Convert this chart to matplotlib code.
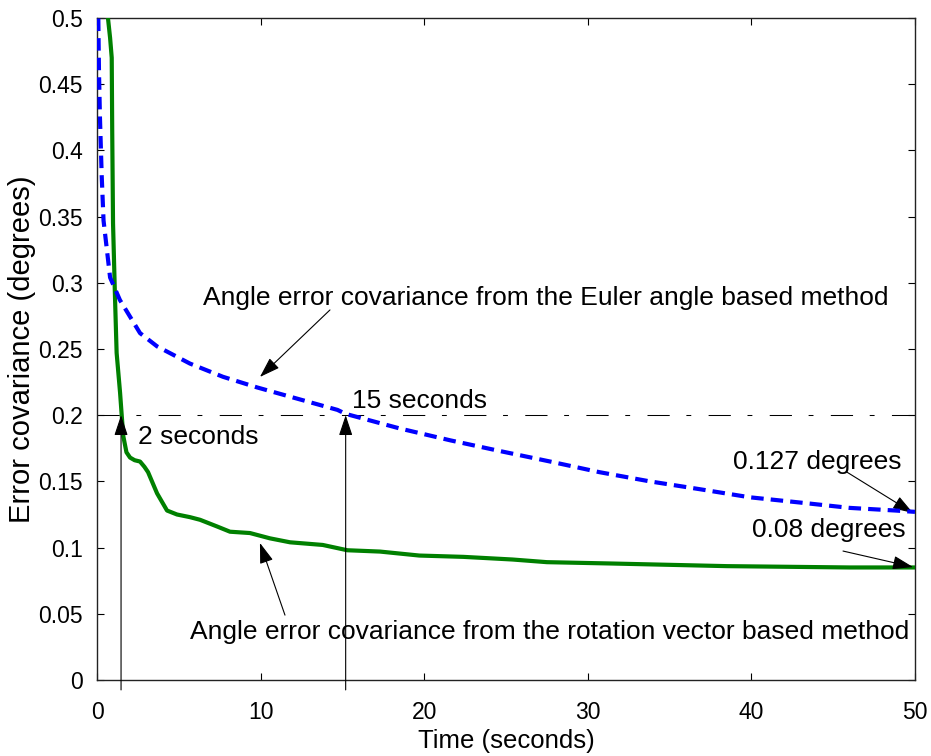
import matplotlib
matplotlib.use("Agg")
import matplotlib.pyplot as plt

# ---- data ----
euler_t = [0.0, 0.08, 0.12, 0.18, 0.29, 0.4, 0.8, 1.4, 2.63, 3.67, 5.68, 7.7, 9.78,
           11.8, 14.7, 15.2, 18.5, 21.6, 24.6, 27.7, 30.7, 33.8, 36.9, 39.9, 43.0,
           46.0, 48.8, 50.0]
euler_cov = [0.52, 0.5, 0.46, 0.425, 0.38, 0.347, 0.304, 0.287, 0.262, 0.252, 0.239,
             0.229, 0.221, 0.214, 0.204, 0.201, 0.19, 0.181, 0.173, 0.165, 0.157,
             0.150, 0.144, 0.138, 0.134, 0.130, 0.128, 0.127]

rot_t = [0.6, 0.67, 0.8, 0.9, 0.93, 0.98, 1.1, 1.2, 1.41, 1.51, 1.61, 1.8, 2.02, 2.3,
         2.63, 2.9, 3.12, 3.67, 4.28, 4.89, 5.68, 6.3, 7.33, 8.13, 9.35, 10.57, 11.8,
         13.8, 15.3, 17.3, 19.7, 22.4, 25.4, 27.5, 31.4, 38.5, 46.0, 50.0]
rot_cov = [0.56, 0.5, 0.485, 0.47, 0.415, 0.345, 0.289, 0.247, 0.217, 0.2, 0.184,
           0.172, 0.168, 0.166, 0.165, 0.161, 0.157, 0.141, 0.128, 0.125, 0.123,
           0.121, 0.116, 0.112, 0.111, 0.107, 0.104, 0.102, 0.098, 0.097, 0.094,
           0.093, 0.091, 0.089, 0.088, 0.086, 0.085, 0.085]

threshold = 0.2
t_rot_cross = 1.47
t_euler_cross = 15.2
final_euler = 0.127
final_rot = 0.08

xticks = [0, 10, 20, 30, 40, 50]
yticks = [0, 0.05, 0.1, 0.15, 0.2, 0.25, 0.3, 0.35, 0.4, 0.45, 0.5]
ytick_labels = ["0", "0.05", "0.1", "0.15", "0.2", "0.25", "0.3", "0.35", "0.4", "0.45", "0.5"]

plt.rcParams['font.family'] = ['Liberation Sans', 'DejaVu Sans']

fig = plt.figure(figsize=(9.31, 7.56), dpi=100)
ax = fig.add_axes([97/931, 76/756, 818/931, 662/756])

ax.plot(rot_t, rot_cov, color='#008000', lw=3.0, solid_joinstyle='round', zorder=3)
ax.plot(euler_t, euler_cov, color='#0000ff', lw=3.0, linestyle=(0, (3.0, 1.7)), zorder=4)

# threshold dash-dot line
lw_th = 0.75
ax.plot([0, 50], [threshold, threshold], color='black', lw=lw_th,
        linestyle=(0, (16/lw_th, 12/lw_th, 3.5/lw_th, 12.5/lw_th)), zorder=2)

arrow_kw = dict(arrowstyle='-|>,head_length=0.42,head_width=0.14', color='black',
                lw=0.8, mutation_scale=30, shrinkA=0, shrinkB=0)

# vertical arrows
for tc in (t_rot_cross, t_euler_cross):
    ax.annotate('', xy=(tc, threshold), xytext=(tc, -0.0075), arrowprops=arrow_kw,
                annotation_clip=False, zorder=5)

fs = 19
ax.text(2.5, 0.1835, '2 seconds', fontsize=fs, ha='left', va='center')
ax.text(15.6, 0.211, '15 seconds', fontsize=fs, ha='left', va='center')

ax.text(6.48, 0.2885, 'Angle error covariance from the Euler angle based method',
        fontsize=fs, ha='left', va='center')
ax.annotate('', xy=(9.96, 0.2289), xytext=(14.24, 0.2795), arrowprops=arrow_kw)

ax.text(5.68, 0.0363, 'Angle error covariance from the rotation vector based method',
        fontsize=fs, ha='left', va='center')
ax.annotate('', xy=(9.96, 0.1035), xytext=(11.49, 0.049), arrowprops=arrow_kw)

ax.text(49.2, 0.1647, '%.3g degrees' % final_euler, fontsize=fs, ha='right', va='center')
ax.annotate('', xy=(49.88, 0.1261), xytext=(45.84, 0.157), arrowprops=arrow_kw,
            annotation_clip=False)
ax.text(49.4, 0.113, '%.2f degrees' % final_rot, fontsize=fs, ha='right', va='center')
ax.annotate('', xy=(49.88, 0.0853), xytext=(45.6, 0.0974), arrowprops=arrow_kw,
            annotation_clip=False)

ax.set_xlim(0, 50)
ax.set_ylim(0, 0.5)
ax.set_xticks(xticks)
ax.set_yticks(yticks)
ax.set_yticklabels(ytick_labels)
ax.tick_params(direction='in', length=5, width=0.8, top=True, right=True,
               labelsize=16.5)
ax.tick_params(axis='x', pad=15)
ax.tick_params(axis='y', pad=10)
for s in ax.spines.values():
    s.set_linewidth(1.0)
    s.set_color('#222222')

ax.set_xlabel('Time (seconds)', fontsize=18.5, labelpad=4)
ax.set_ylabel('Error covariance (degrees)', fontsize=21, labelpad=2)

fig.savefig('out.png', dpi=100)
